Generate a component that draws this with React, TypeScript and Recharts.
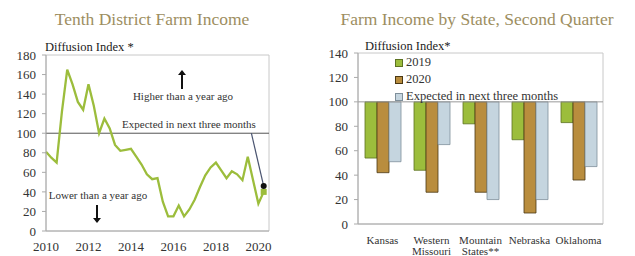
import React from 'react'
import {
  LineChart,
  Line,
  XAxis,
  YAxis,
  ReferenceLine,
  ReferenceArea,
  ReferenceDot,
  BarChart,
  Bar,
  Legend,
} from 'recharts'

// --- Tenth District Farm Income (quarterly diffusion index) ---
const startYear = 2010
const farmIncome = [
  81, 75, 70, 122, 165, 150, 132, 124, 150, 128, 100, 115, 105, 88, 82, 83, 84, 76, 68, 58, 53,
  54, 30, 15, 15, 26, 15, 22, 32, 45, 57, 65, 70, 62, 54, 61, 58, 52, 76, 52, 28, 40,
]
const expectedNext = 46
const yearTicks = [2010, 2012, 2014, 2016, 2018, 2020]
const leftTicks = [0, 20, 40, 60, 80, 100, 120, 140, 160, 180]

// --- Farm Income by State, Second Quarter ---
const states = ['Kansas', 'Western Missouri', 'Mountain States**', 'Nebraska', 'Oklahoma']
const q2019 = [54, 44, 82, 69, 83]
const q2020 = [42, 26, 26, 9, 36]
const expectedByState = [51, 65, 20, 20, 47]
const rightTicks = [0, 20, 40, 60, 80, 100, 120, 140]

const serif = '"Liberation Serif", "DejaVu Serif", serif'
const titleColor = '#9d8e5f'
const green = '#9cbd3c'
const brown = '#b98d3e'
const lightBlue = '#c5d5df'

const lineData = farmIncome.map((v, i) => ({ t: startYear + i / 4, v }))
const lastIdx = farmIncome.length - 1

const barData = states.map((s, i) => ({
  state: s,
  a: [q2019[i], 100],
  b: [q2020[i], 100],
  c: [expectedByState[i], 100],
}))

const legendItems = [
  { label: '2019', fill: green, stroke: '#5d7222' },
  { label: '2020', fill: brown, stroke: '#4a3814' },
  { label: 'Expected in next three months', fill: lightBlue, stroke: '#7f8f9a' },
]

function StateTick(props: any) {
  const { x, y, payload } = props
  const lines = String(payload.value).split(' ')
  return (
    <text x={x} y={y + 12} textAnchor="middle" fontFamily={serif} fontSize={11} fill="#333">
      {lines.map((l, i) => (
        <tspan key={i} x={x} dy={i === 0 ? 0 : 11}>
          {l}
        </tspan>
      ))}
    </text>
  )
}

function BarLegend() {
  return (
    <div style={{ fontFamily: serif, fontSize: 12.5, color: '#333', lineHeight: '17px' }}>
      {legendItems.map((it) => (
        <div key={it.label} style={{ display: 'flex', alignItems: 'center', whiteSpace: 'nowrap' }}>
          <span
            style={{
              display: 'inline-block',
              width: 6,
              height: 6,
              background: it.fill,
              border: `1px solid ${it.stroke}`,
              marginRight: 3,
            }}
          />
          {it.label}
        </div>
      ))}
    </div>
  )
}

function Arrow({ x, y1, y2 }: { x: number; y1: number; y2: number }) {
  const up = y2 < y1
  const top = Math.min(y1, y2)
  const h = Math.abs(y2 - y1)
  return (
    <svg style={{ position: 'absolute', left: x - 4, top }} width={8} height={h}>
      <line x1={4} x2={4} y1={up ? 4 : 0} y2={up ? h : h - 4} stroke="#111" strokeWidth={2} />
      <polygon points={up ? `0,5 8,5 4,0` : `0,${h - 5} 8,${h - 5} 4,${h}`} fill="#111" />
    </svg>
  )
}

const annot: React.CSSProperties = {
  position: 'absolute',
  fontFamily: serif,
  fontSize: 11,
  color: '#333',
  whiteSpace: 'nowrap',
  transform: 'translateX(-50%)',
}

const title: React.CSSProperties = {
  position: 'absolute',
  top: 9,
  transform: 'translateX(-50%)',
  fontFamily: serif,
  fontSize: 17.5,
  color: titleColor,
  whiteSpace: 'nowrap',
}

export default function App() {
  return (
    <div style={{ position: 'absolute', left: 0, top: 0, width: 635, height: 256, background: '#fff' }}>
      <div style={{ ...title, left: 152 }}>Tenth District Farm Income</div>
      <div style={{ ...title, left: 477 }}>Farm Income by State, Second Quarter</div>
      <div style={{ position: 'absolute', left: 45, top: 40, fontFamily: serif, fontSize: 12.5, color: '#222' }}>
        Diffusion Index *
      </div>
      <div style={{ position: 'absolute', left: 365, top: 39, fontFamily: serif, fontSize: 12.5, color: '#222' }}>
        Diffusion Index*
      </div>

      <div style={{ position: 'absolute', left: 0, top: 0 }}>
        <LineChart width={290} height={256} data={lineData} margin={{ top: 55, right: 21, bottom: 0, left: 0 }}>
          <ReferenceArea x1={2010} x2={2020.5} y1={0} y2={180} fill="none" stroke="#c8c8c8" ifOverflow="extendDomain" />
          <XAxis
            dataKey="t"
            type="number"
            domain={[2010, 2020.5]}
            ticks={yearTicks}
            height={25}
            tickLine={false}
            tickMargin={5}
            axisLine={{ stroke: '#aaa' }}
            tick={{ fontFamily: serif, fontSize: 13, fill: '#333' }}
          />
          <YAxis
            domain={[0, 180]}
            ticks={leftTicks}
            width={46}
            tickSize={4}
            tickMargin={6}
            interval={0}
            axisLine={{ stroke: '#aaa' }}
            tickLine={{ stroke: '#aaa' }}
            tick={{ fontFamily: serif, fontSize: 13, fill: '#333' }}
          />
          <ReferenceLine y={100} stroke="#555" strokeWidth={1} />
          <ReferenceLine
            segment={[
              { x: 2019.67, y: 100 },
              { x: 2020.25, y: expectedNext },
            ]}
            stroke="#4a5470"
            strokeWidth={1.2}
          />
          <Line
            type="linear"
            dataKey="v"
            stroke={green}
            strokeWidth={2.3}
            isAnimationActive={false}
            dot={(p: any) =>
              p.index === lastIdx ? (
                <rect key={p.index} x={p.cx - 3} y={p.cy - 3} width={6} height={6} fill={green} />
              ) : (
                <g key={p.index} />
              )
            }
          />
          <ReferenceDot x={2020.25} y={expectedNext} r={3} fill="#111" stroke="none" />
        </LineChart>
      </div>

      <div style={{ ...annot, left: 183, top: 90 }}>Higher than a year ago</div>
      <div style={{ ...annot, left: 189, top: 118 }}>Expected in next three months</div>
      <div style={{ ...annot, left: 98, top: 189 }}>Lower than a year ago</div>
      <Arrow x={182} y1={89} y2={70} />
      <Arrow x={97} y1={205} y2={223} />

      <div style={{ position: 'absolute', left: 320, top: 0 }}>
        <BarChart
          width={315}
          height={256}
          data={barData}
          margin={{ top: 53, right: 32, bottom: 0, left: 0 }}
          barCategoryGap={7}
          barGap={0}
        >
          <ReferenceArea y1={0} y2={140} fill="none" stroke="#c8c8c8" ifOverflow="extendDomain" />
          <XAxis
            dataKey="state"
            height={32}
            tickLine={false}
            axisLine={{ stroke: '#aaa' }}
            interval={0}
            tick={<StateTick />}
          />
          <YAxis
            domain={[0, 140]}
            ticks={rightTicks}
            width={38}
            tickSize={4}
            tickMargin={6}
            interval={0}
            axisLine={{ stroke: '#aaa' }}
            tickLine={{ stroke: '#aaa' }}
            tick={{ fontFamily: serif, fontSize: 13, fill: '#333' }}
          />
          <ReferenceLine y={100} stroke="#999" strokeWidth={1} />
          <Bar dataKey="a" fill={green} stroke="#5d7222" strokeWidth={0.8} isAnimationActive={false} />
          <Bar dataKey="b" fill={brown} stroke="#4a3814" strokeWidth={0.8} isAnimationActive={false} />
          <Bar dataKey="c" fill={lightBlue} stroke="#7f8f9a" strokeWidth={0.8} isAnimationActive={false} />
          <Legend
            layout="vertical"
            align="center"
            verticalAlign="middle"
            wrapperStyle={{ left: 75, top: 54, width: 'auto' }}
            content={() => <BarLegend />}
          />
        </BarChart>
      </div>
    </div>
  )
}
